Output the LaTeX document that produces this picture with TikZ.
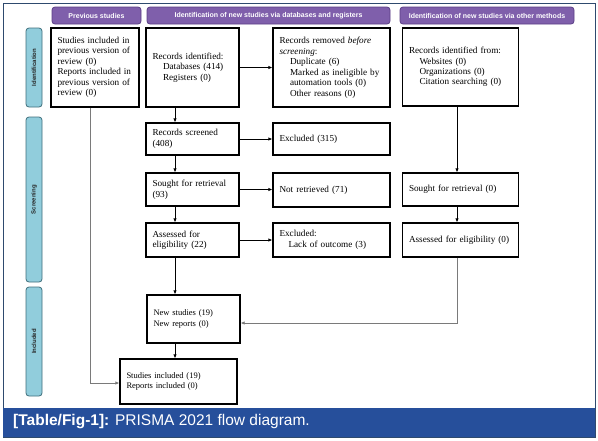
\documentclass[tikz,border=0pt]{standalone}
\usepackage{fontspec}
\setmainfont{Liberation Serif}
\newfontfamily\arialf{Liberation Sans}
\usetikzlibrary{arrows.meta,calc}
\definecolor{hdrfill}{HTML}{7F5FAB}
\definecolor{hdrdraw}{HTML}{5B3F86}
\definecolor{sidefill}{HTML}{91CDDC}
\definecolor{sidedraw}{HTML}{3F6F7C}
\definecolor{capblue}{HTML}{264F9B}
\definecolor{framec}{HTML}{2E4A6E}
\definecolor{lgray}{HTML}{7A7A7A}
\tikzset{
  bx/.style={draw=black, line width=1.3pt, fill=white, inner xsep=6.5pt, inner ysep=2pt,
    align=left, font=\fontsize{9.2}{10.5}\selectfont},
  smallbx/.style={bx, font=\fontsize{8.5}{10.3}\selectfont},
  hdr/.style={draw=hdrdraw, line width=0.8pt, fill=hdrfill, rounded corners=3pt,
    text=white, font=\arialf\bfseries\fontsize{7}{8}\selectfont, inner sep=0pt},
  side/.style={draw=sidedraw, line width=0.8pt, fill=sidefill, rounded corners=3pt, inner sep=0pt},
  sidetxt/.style={rotate=90, text=black!85, font=\arialf\bfseries\fontsize{6}{7}\selectfont, inner sep=0pt},
  arr/.style={draw=black, line width=0.8pt, -{Latex[length=4pt,width=3.5pt]}},
  garr/.style={draw=lgray, line width=0.9pt, -{Latex[length=4pt,width=3.5pt]}}
}
\newcommand{\itm}{\hspace*{10.5pt}}
\begin{document}
\begin{tikzpicture}[x=1pt,y=-1pt]
\useasboundingbox (0,0) rectangle (598,440);
\fill[white] (0,0) rectangle (598,440);
% frame and caption
\draw[framec, line width=0.8pt] (3,3) rectangle (595,437);
\fill[capblue] (3,408) rectangle (595.4,437.4);
\node[anchor=west, text=white, font=\arialf\fontsize{15.5}{17}\selectfont, inner sep=0pt] (cap) at (13,422)
  {\textbf{[Table/Fig-1]:} PRISMA 2021 flow diagram.};
% headers
\node[hdr, minimum width=89pt, minimum height=17pt] (hprev) at (96.5,15.5) {Previous studies};
\node[hdr, minimum width=243pt, minimum height=17pt] (hdb) at (268.5,15.5) {Identification of new studies via databases and registers};
\node[hdr, minimum width=174pt, minimum height=17pt] (hoth) at (487,15.5) {Identification of new studies via other methods};
% side labels
\node[side, minimum width=16pt, minimum height=79pt] (sid) at (34,67.5) {};
\node[sidetxt] (tid) at (34,67.5) {Identification};
\node[side, minimum width=16pt, minimum height=165pt] (ssc) at (34,199.5) {};
\node[sidetxt] (tsc) at (34,199.5) {Screening};
\node[side, minimum width=16pt, minimum height=109pt] (sin) at (34,341.5) {};
\node[sidetxt] (tin) at (34,341.5) {Included};
% boxes
\node[bx, text width=75pt, minimum height=79pt] (prev) at (95,67.5)
  {Studies included in\\previous version of\\review (0)\\Reports included in\\previous version of\\review (0)};
\node[bx, text width=80pt, minimum height=79pt] (recid) at (192.5,67.5)
  {Records identified:\\\itm Databases (414)\\\itm Registers (0)};
\node[bx, text width=104pt, minimum height=79pt] (removed) at (331.5,67.5)
  {Records removed \textit{before}\\\textit{screening}:\\\itm Duplicate (6)\\\itm Marked as ineligible by\\\itm automation tools (0)\\\itm Other reasons (0)};
\node[bx, text width=103pt, minimum height=78pt] (othid) at (460.5,67)
  {Records identified from:\\\itm Websites (0)\\\itm Organizations (0)\\\itm Citation searching (0)};
\node[bx, text width=80pt, minimum height=32pt] (screened) at (192.5,139) {Records screened\\(408)};
\node[bx, text width=104pt, minimum height=32pt] (excl1) at (331.5,139) {Excluded (315)};
\node[bx, text width=80pt, minimum height=33pt] (sought) at (192.5,189.5) {Sought for retrieval\\(93)};
\node[bx, text width=104pt, minimum height=34pt] (notret) at (331.5,190) {Not retrieved (71)};
\node[bx, text width=103pt, minimum height=33pt] (sought0) at (460.5,189.5) {Sought for retrieval (0)};
\node[bx, text width=80pt, minimum height=34pt] (assessed) at (192.5,240) {Assessed for\\eligibility (22)};
\node[bx, text width=104pt, minimum height=34pt] (excl2) at (331.5,240) {Excluded:\\\hspace*{9pt}Lack of outcome (3)};
\node[bx, text width=103pt, minimum height=34pt] (assessed0) at (460.5,240) {Assessed for eligibility (0)};
\node[smallbx, text width=80pt, minimum height=48pt] (newst) at (193.5,319) {New studies (19)\\New reports (0)};
\node[smallbx, text width=104pt, minimum height=45pt] (incl) at (178.5,381.5) {Studies included (19)\\Reports included (0)};
% column coordinates
\coordinate (c1) at (175,0);
\coordinate (c2) at (457,0);
\coordinate (c3) at (90,0);
% connectors
\draw[arr] (recid.east) -- (removed.west);
\draw[arr] (recid.south -| c1) -- (screened.north -| c1);
\draw[arr] (screened.east) -- (excl1.west);
\draw[arr] (screened.south -| c1) -- (sought.north -| c1);
\draw[arr] (sought.east) -- (sought.east -| notret.west);
\draw[arr] (sought.south -| c1) -- (assessed.north -| c1);
\draw[arr] (assessed.east) -- (excl2.west);
\draw[arr] (assessed.south -| c1) -- (newst.north -| c1);
\draw[arr] (newst.south -| c1) -- (incl.north -| c1);
\draw[arr] (othid.south -| c2) -- (sought0.north -| c2);
\draw[arr] (sought0.south -| c2) -- (assessed0.north -| c2);
\draw[garr] (assessed0.south -| c2) |- ($(newst.east)+(0,4)$);
\draw[garr] (prev.south -| c3) |- ($(incl.west)+(0,1.5)$);
\end{tikzpicture}
\end{document}
